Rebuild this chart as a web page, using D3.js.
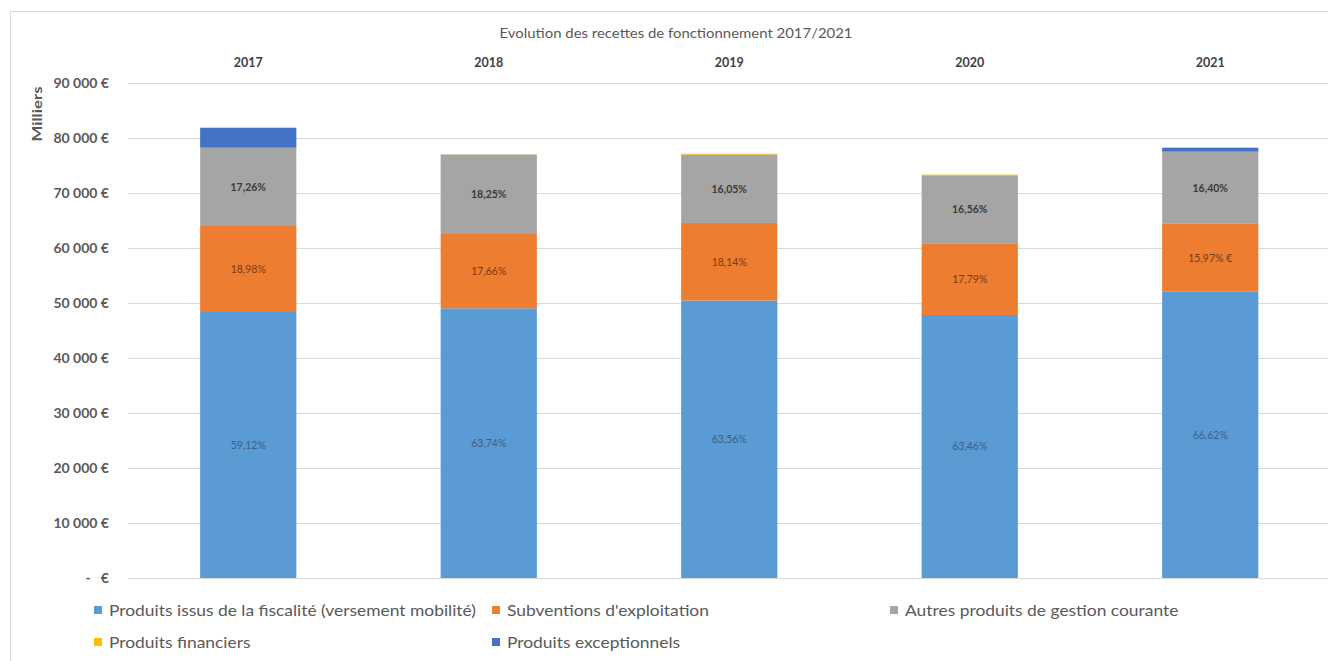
<!DOCTYPE html>
<html>
<head>
<meta charset="utf-8">
<script src="https://cdn.jsdelivr.net/npm/d3@7"></script>
<style>
  body { margin: 0; background: #fff; }
  svg { display: block; font-family: Lato, "Open Sans", sans-serif; }
</style>
</head>
<body>
<svg id="vis" width="1328" height="661"></svg>
<script>
// values (milliers d'euros)
const years = ["2017", "2018", "2019", "2020", "2021"];
const fiscalite = [48360, 49040, 50450, 47820, 52050];
const subventions = [15640, 13500, 14100, 13040, 12440];
const autres = [14240, 14420, 12450, 12360, 13020];
const financiers = [0, 50, 150, 110, 0];
const exceptionnels = [3630, 30, 0, 0, 730];

const pctFiscalite = ["59,12%", "63,74%", "63,56%", "63,46%", "66,62%"];
const pctSubventions = ["18,98%", "17,66%", "18,14%", "17,79%", "15,97% €"];
const pctAutres = ["17,26%", "18,25%", "16,05%", "16,56%", "16,40%"];

const seriesNames = [
  "Produits issus de la fiscalité (versement mobilité)",
  "Subventions d'exploitation",
  "Autres produits de gestion courante",
  "Produits financiers",
  "Produits exceptionnels"
];
const colors = ["#5b9bd5", "#ed7d31", "#a5a5a5", "#ffc000", "#4472c4"];
const yTicks = [0, 10000, 20000, 30000, 40000, 50000, 60000, 70000, 80000, 90000];

const keys = ["fiscalite", "subventions", "autres", "financiers", "exceptionnels"];
const data = years.map(function(y, i) {
  return {
    year: y,
    fiscalite: fiscalite[i],
    subventions: subventions[i],
    autres: autres[i],
    financiers: financiers[i],
    exceptionnels: exceptionnels[i]
  };
});

const margin = { top: 83, left: 128, bottom: 83 };
const svg = d3.select("#vis");

// chart frame
svg.append("rect")
  .attr("x", 10.5).attr("y", 11.5)
  .attr("width", 1340).attr("height", 680)
  .attr("fill", "none").attr("stroke", "#d9d9d9");

const x = d3.scaleBand()
  .domain(years)
  .range([margin.left, margin.left + 5 * 240.5])
  .paddingInner(0.6)
  .paddingOuter(0.3);

const y = d3.scaleLinear().domain([0, 90000]).range([578, 83]);

// gridlines
svg.append("g").selectAll("line")
  .data(yTicks)
  .enter().append("line")
  .attr("x1", margin.left).attr("x2", 1328)
  .attr("y1", function(d) { return Math.round(y(d)) + 0.5; })
  .attr("y2", function(d) { return Math.round(y(d)) + 0.5; })
  .attr("stroke", "#d9d9d9");

// y axis labels
const fmt = function(d) {
  if (d == 0) return "-   €";
  return d3.format(",")(d).replace(/,/g, " ") + " €";
};
svg.append("g").selectAll("text")
  .data(yTicks)
  .enter().append("text")
  .attr("x", 109)
  .attr("y", function(d) { return y(d) + 5; })
  .attr("text-anchor", "end")
  .attr("font-size", 14)
  .attr("font-weight", "bold")
  .attr("fill", "#595959")
  .attr("xml:space", "preserve")
  .style("white-space", "pre")
  .text(fmt);

svg.append("text")
  .attr("transform", "translate(42, 114) rotate(-90)")
  .attr("text-anchor", "middle")
  .attr("font-size", 14)
  .attr("font-weight", "bold")
  .attr("fill", "#595959")
  .attr("textLength", 55)
  .attr("lengthAdjust", "spacingAndGlyphs")
  .text("Milliers");

// title
svg.append("text")
  .attr("x", 676).attr("y", 38)
  .attr("text-anchor", "middle")
  .attr("font-size", 14)
  .attr("fill", "#595959")
  .attr("textLength", 353)
  .attr("lengthAdjust", "spacingAndGlyphs")
  .text("Evolution des recettes de fonctionnement 2017/2021");

// year labels on top
svg.append("g").selectAll("text")
  .data(years)
  .enter().append("text")
  .attr("x", function(d) { return x(d) + x.bandwidth() / 2; })
  .attr("y", 67)
  .attr("text-anchor", "middle")
  .attr("font-size", 12.5)
  .attr("font-weight", "bold")
  .attr("fill", "#404040")
  .text(function(d) { return d; });

// stacked bars
const stacked = d3.stack().keys(keys)(data);
const layers = svg.append("g").selectAll("g")
  .data(stacked)
  .enter().append("g")
  .attr("fill", function(d, i) { return colors[i]; });

layers.selectAll("rect")
  .data(function(d) { return d; })
  .enter().append("rect")
  .attr("x", function(d) { return x(d.data.year); })
  .attr("width", x.bandwidth())
  .attr("y", function(d) { return y(d[1]); })
  .attr("height", function(d) { return y(d[0]) - y(d[1]); });

// percentage labels
const pctLabels = [pctFiscalite, pctSubventions, pctAutres];
const labelColors = ["#3d5f80", "#7a3a10", "#3a3a3a"];
pctLabels.forEach(function(labels, k) {
  svg.append("g").selectAll("text")
    .data(stacked[k])
    .enter().append("text")
    .attr("x", function(d) { return x(d.data.year) + x.bandwidth() / 2; })
    .attr("y", function(d) { return (y(d[0]) + y(d[1])) / 2 + 4; })
    .attr("text-anchor", "middle")
    .attr("font-size", 10.5)
    .attr("font-weight", k == 2 ? "bold" : "normal")
    .attr("fill", labelColors[k])
    .text(function(d, i) { return labels[i]; });
});

// legend, three equal columns
const legendX = [94, 492, 890, 94, 492];
const legendY = [610, 610, 610, 642, 642];
const legend = svg.append("g").selectAll("g")
  .data(seriesNames)
  .enter().append("g")
  .attr("transform", function(d, i) { return "translate(" + legendX[i] + "," + legendY[i] + ")"; });

legend.append("rect")
  .attr("x", 0).attr("y", -4)
  .attr("width", 8).attr("height", 8)
  .attr("fill", function(d, i) { return colors[i]; });

const legendText = legend.append("text")
  .attr("x", 15).attr("y", 5.5)
  .attr("font-size", 16)
  .attr("fill", "#595959")
  .text(function(d) { return d; });

// stretch the legend labels a little, Lato is wider-bodied than the original font
const stretch = 367 / legendText.nodes()[0].getComputedTextLength();
legendText.each(function() {
  const w = this.getComputedTextLength();
  d3.select(this)
    .attr("textLength", w * stretch)
    .attr("lengthAdjust", "spacingAndGlyphs");
});
</script>
</body>
</html>
